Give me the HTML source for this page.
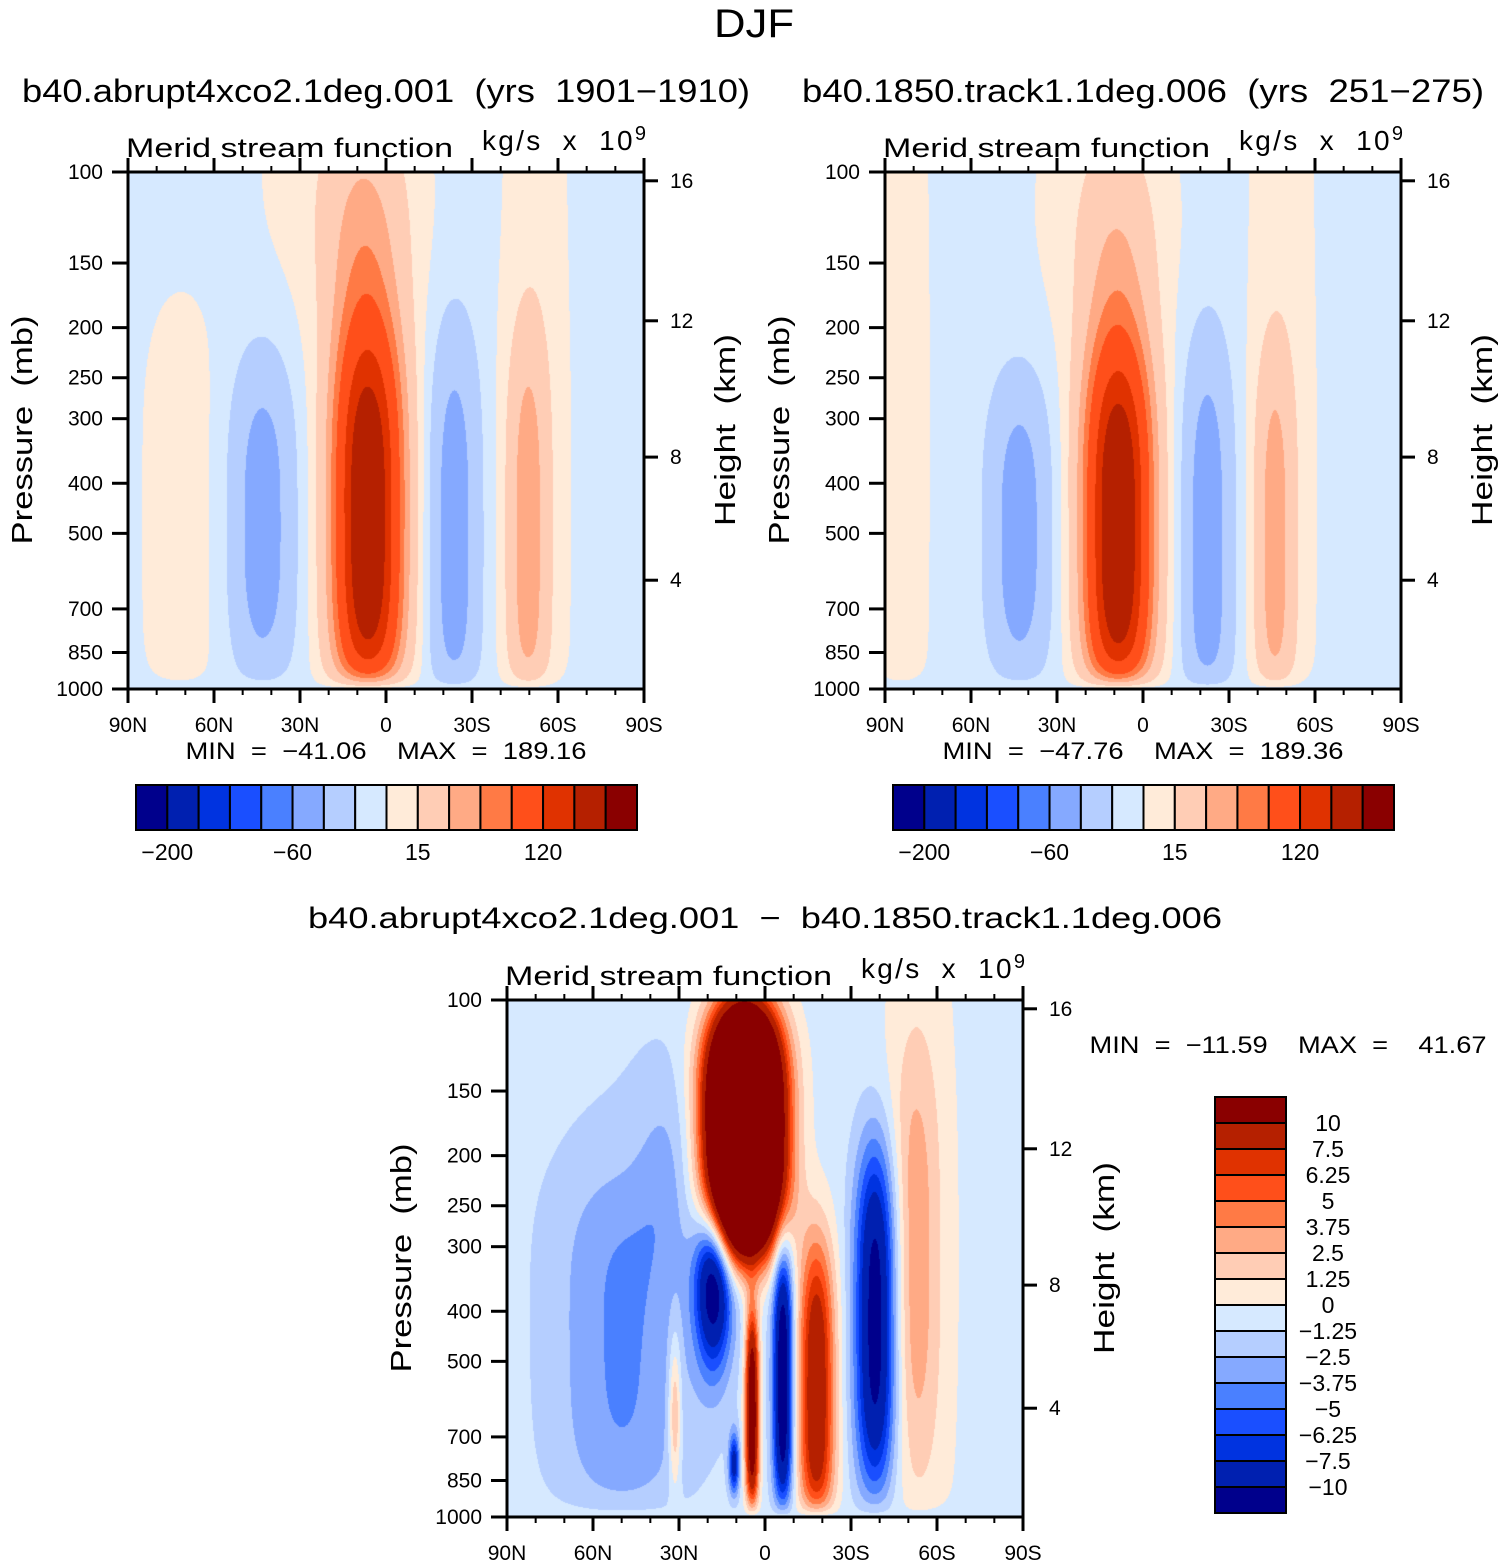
<!DOCTYPE html>
<html><head><meta charset="utf-8">
<style>
html,body{margin:0;padding:0;background:#fff;}
#root{position:relative;width:1504px;height:1566px;overflow:hidden;}
canvas{position:absolute;}
svg{position:absolute;left:0;top:0;}
text{font-family:"Liberation Sans",sans-serif;fill:#000;white-space:pre;}
</style></head>
<body>
<div id="root">
<canvas id="c1" width="516" height="517" style="left:128px;top:172px"></canvas>
<canvas id="c2" width="516" height="517" style="left:885px;top:172px"></canvas>
<canvas id="c3" width="516" height="517" style="left:507px;top:1000px"></canvas>
<svg id="s" width="1504" height="1566"></svg>
</div>
<script>
// ---- data ----
const colors = ["#00008c","#0020b0","#0033e0","#1a4fff","#4a80ff","#85a9ff","#b5ceff","#d6e9ff","#ffebd9","#ffcdb5","#ffaa85","#ff7a45","#ff4f1a","#e03200","#b52000","#8a0000"];
const levelsAbs = [-200,-150,-100,-80,-60,-40,-15,0,15,40,60,80,120,150,200];
const levelsDiff = [-10,-7.5,-6.25,-5,-3.75,-2.5,-1.25,0,1.25,2.5,3.75,5,6.25,7.5,10];
const absTickLabels = ["−200","−60","15","120"];
const absTickIdx = [0,4,8,12];
const diffTickLabels = ["10","7.5","6.25","5","3.75","2.5","1.25","0","−1.25","−2.5","−3.75","−5","−6.25","−7.5","−10"];
const pressureTicks = [100,150,200,250,300,400,500,700,850,1000];
const heightTicks = [4,8,12,16];
const heightTickPressure = [616,356,194,104];
const latTicks = [90,60,30,0,-30,-60,-90];
const latLabels = ["90N","60N","30N","0","30S","60S","90S"];
// field blobs: [lat fraction u, level fraction v, width u, width v, amplitude, v-exponent]
const bg1 = -5;
const blobs1 = [
 [0.465,0.68,0.068,0.38,195,3],[0.46,0.15,0.08,0.25,45,2],[0.41,0.0,0.16,0.3,12,2],
 [0.26,0.68,0.06,0.32,-50,3],[0.10,0.68,0.075,0.45,13,4],
 [0.632,0.7,0.048,0.4,-50,3],[0.775,0.7,0.04,0.4,48,3],[0.79,0.5,0.07,1.5,12,2]];
const bg2 = -5;
const blobs2 = [
 [0.452,0.7,0.066,0.36,196,3],[0.45,0.2,0.075,0.25,38,2],[0.42,0.05,0.15,0.3,10,2],
 [0.26,0.7,0.058,0.3,-50,3],[0.03,0.5,0.06,1.5,12,2],
 [0.625,0.72,0.048,0.4,-52,3],[0.755,0.72,0.038,0.38,46,3],[0.77,0.5,0.07,1.5,12,2]];
const bg3 = -0.6;
const blobs3 = [
 [0.46,0.25,0.065,0.22,45,3],[0.475,0.8,0.013,0.2,14,3],[0.40,0.55,0.035,0.16,-11,2],
 [0.44,0.9,0.01,0.06,-8,2],[0.535,0.74,0.019,0.26,-12,3],[0.60,0.76,0.035,0.3,10.5,3],
 [0.715,0.62,0.04,0.34,-11,3],[0.79,0.5,0.045,0.4,2.6,3],[0.80,0.5,0.075,1,1.5,2],
 [0.22,0.68,0.12,0.34,-2.4,4],[0.24,0.55,0.2,0.5,-1.0,3],[0.31,0.32,0.06,0.2,-1.4,2],[0.325,0.8,0.012,0.15,4.5,2]];
const panelStats = ["MIN  =  −41.06    MAX  =  189.16","MIN  =  −47.76    MAX  =  189.36"];

function hex(c){return [parseInt(c.substr(1,2),16),parseInt(c.substr(3,2),16),parseInt(c.substr(5,2),16)];}
const rgb = colors.map(hex);
function drawField(id,bg,blobs,levels){
  const cv=document.getElementById(id),ctx=cv.getContext('2d');
  const W=cv.width,H=cv.height,img=ctx.createImageData(W,H);
  for(let j=0;j<H;j++){const v=j/(H-1);const taper=1-Math.exp(-(1-v)/0.025);
    for(let i=0;i<W;i++){const u=i/(W-1);let s=0;
      for(const b of blobs){const du=(u-b[0])/b[2],dv=Math.abs(v-b[1])/b[3];s+=b[4]*Math.exp(-du*du-Math.pow(dv,b[5]));}
      const val=bg+s*taper;let k=0;while(k<levels.length&&val>=levels[k])k++;
      const c=rgb[k],p=(j*W+i)*4;img.data[p]=c[0];img.data[p+1]=c[1];img.data[p+2]=c[2];img.data[p+3]=255;}}
  ctx.putImageData(img,0,0);
}
drawField('c1',bg1,blobs1,levelsAbs);
drawField('c2',bg2,blobs2,levelsAbs);
drawField('c3',bg3,blobs3,levelsDiff);

const NS="http://www.w3.org/2000/svg",S=document.getElementById('s');
function el(tag,a,txt){const e=document.createElementNS(NS,tag);for(const k in a)e.setAttribute(k,a[k]);if(txt!==undefined)e.textContent=txt;S.appendChild(e);return e;}
function T(x,y,s,txt,anchor,len){const a={x:x,y:y,'font-size':s,'text-anchor':anchor||'middle'};if(len){a.textLength=len;a.lengthAdjust='spacingAndGlyphs';}return el('text',a,txt);}
const W=516,H=517;
function py(p){return (Math.log10(p)-2)*H;}
function lx(l){return (90-l)/180*W;}

function axes(ox,oy,pfx){
  const fr=el('rect',{x:ox,y:oy,width:W,height:H,fill:'none',stroke:'#000','stroke-width':3});
  
  for(let l=90;l>=-90;l-=10){const x=ox+lx(l),big=(l%30===0);const len=big?14:6;
    el('line',{x1:x,y1:oy+H,x2:x,y2:oy+H+len,stroke:'#000','stroke-width':big?3:2});
    el('line',{x1:x,y1:oy,x2:x,y2:oy-len,stroke:'#000','stroke-width':big?3:2});}
  latTicks.forEach((l,i)=>{const t=T(ox+lx(l),oy+H+43,21,latLabels[i]);
    });
  pressureTicks.forEach(p=>{const y=oy+py(p);
    el('line',{x1:ox-16,y1:y,x2:ox,y2:y,stroke:'#000','stroke-width':3});
    const t=T(ox-25,y+7,21,String(p),'end');
    });
  heightTicks.forEach((h,i)=>{const y=oy+py(heightTickPressure[i]);
    el('line',{x1:ox+W,y1:y,x2:ox+W+14,y2:y,stroke:'#000','stroke-width':3});
    const t=T(ox+W+26,y+7,21,String(h),'start');
    });
  const a=T(ox-2,oy-15,27,'Merid stream function','start',327);
  
  const u=el('text',{x:ox+354,y:oy-22,'font-size':28,'text-anchor':'start',textLength:164,lengthAdjust:'spacing'});
  
  u.innerHTML='kg/s  x  10<tspan dy="-10" font-size="20">9</tspan>';
  const yl=el('text',{x:0,y:0,'font-size':29,'text-anchor':'middle',transform:`translate(${ox-96},${oy+258}) rotate(-90)`,textLength:229,lengthAdjust:'spacingAndGlyphs'},'Pressure  (mb)');
  
  const hl=el('text',{x:0,y:0,'font-size':29,'text-anchor':'middle',transform:`translate(${ox+W+91},${oy+258}) rotate(-90)`,textLength:192,lengthAdjust:'spacingAndGlyphs'},'Height  (km)');
  
}
axes(128,172,'panel-1');axes(885,172,'panel-2');axes(507,1000,'panel-diff');

const t0=T(754,37,40,'DJF','middle',80);

const t1=T(386,102,32,'b40.abrupt4xco2.1deg.001  (yrs  1901−1910)','middle',728);

const t2=T(1143,102,32,'b40.1850.track1.1deg.006  (yrs  251−275)','middle',682);

const t3=T(765,928,30,'b40.abrupt4xco2.1deg.001  −  b40.1850.track1.1deg.006','middle',914);


[128,885].forEach((ox,pi)=>{
  const st=T(ox+258,759,24,panelStats[pi],'middle',401);
  
  const bx=ox+8,bw=501/16;
  colors.forEach((c,i)=>{const r=el('rect',{x:bx+i*bw,y:785,width:bw,height:45,fill:c,stroke:'#000','stroke-width':2});
    });
  absTickIdx.forEach((k,i)=>{const t=T(bx+(k+1)*bw,860,23,absTickLabels[i]);
    });
});
const dm=T(1288,1053,24,'MIN  =  −11.59    MAX  =    41.67','middle',397);

const bh=416/16;
colors.slice().reverse().forEach((c,i)=>{const r=el('rect',{x:1215,y:1097+i*bh,width:71,height:bh,fill:c,stroke:'#000','stroke-width':2});
  });
diffTickLabels.forEach((s,i)=>{const t=T(1328,1097+(i+1)*bh+8,23,s);
  });
</script>
</body></html>
